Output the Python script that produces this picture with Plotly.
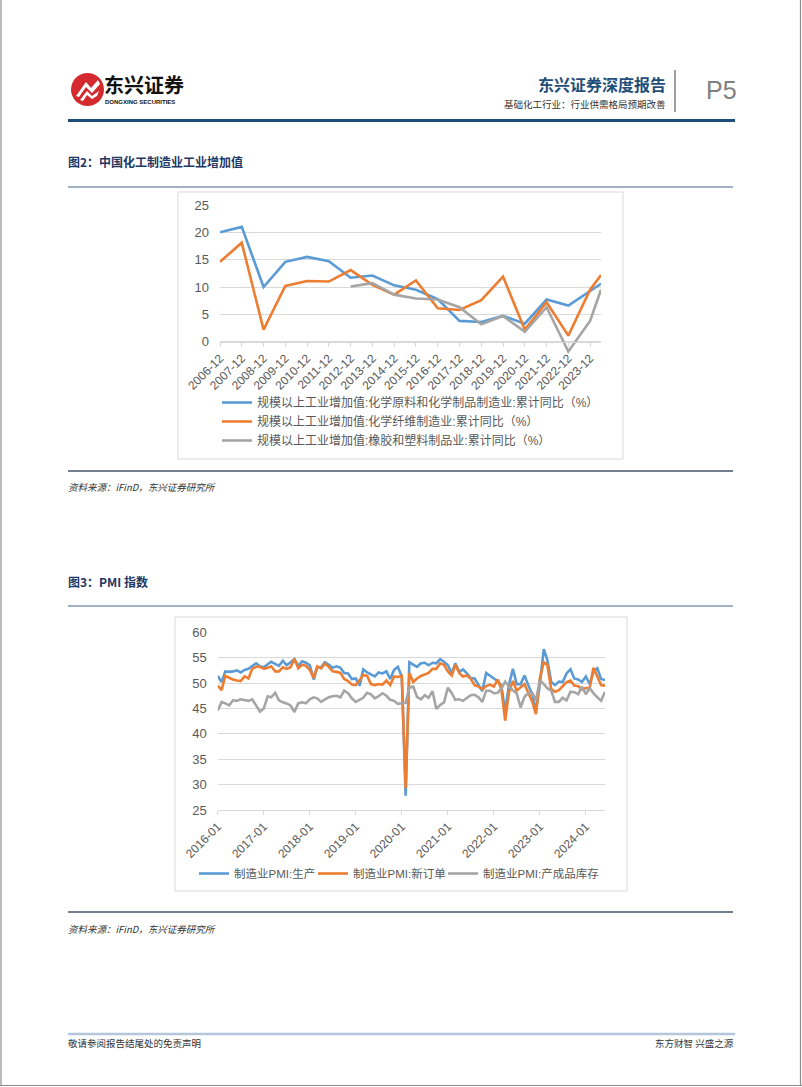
import plotly.graph_objects as go
import pandas as pd

W, H = 802, 1087
def X(px): return px / W
def Y(py): return 1 - py / H

# ---------------- Chart 1 data ----------------
c1_dates = ["2006-12", "2007-12", "2008-12", "2009-12", "2010-12", "2011-12", "2012-12",
            "2013-12", "2014-12", "2015-12", "2016-12", "2017-12", "2018-12", "2019-12",
            "2020-12", "2021-12", "2022-12", "2023-12", "2024-06"]
c1_ticks = ["2006-12", "2007-12", "2008-12", "2009-12", "2010-12", "2011-12", "2012-12",
            "2013-12", "2014-12", "2015-12", "2016-12", "2017-12", "2018-12", "2019-12",
            "2020-12", "2021-12", "2022-12", "2023-12"]
chem_raw = [20.0, 21.0, 10.0, 14.6, 15.5, 14.7, 11.7, 12.1, 10.3, 9.5, 7.8, 3.8, 3.6, 4.7, 3.3, 7.7, 6.6, 9.3, 10.6]
chem_fiber = [14.6, 18.1, 2.2, 10.2, 11.1, 11.0, 13.1, 10.4, 8.6, 11.2, 6.1, 5.8, 7.6, 11.9, 2.2, 7.2, 1.1, 9.5, 12.2]
rubber = [None, None, None, None, None, None, 10.1, 10.7, 8.6, 7.9, 7.7, 6.3, 3.2, 4.7, 1.8, 6.3, -1.8, 3.8, 9.5]
c1_names = ["规模以上工业增加值:化学原料和化学制品制造业:累计同比（%）",
            "规模以上工业增加值:化学纤维制造业:累计同比（%）",
            "规模以上工业增加值:橡胶和塑料制品业:累计同比（%）"]

# ---------------- Chart 2 data ----------------
c2_months = pd.date_range("2016-01-01", "2024-06-01", freq="MS")
c2_tick_labels = ["2016-01", "2017-01", "2018-01", "2019-01", "2020-01", "2021-01", "2022-01", "2023-01", "2024-01"]
pmi_production = [
    51.4, 50.2, 52.3, 52.2, 52.3, 52.5, 52.1, 52.6, 52.8, 53.3, 53.9, 53.3,
    53.1, 53.7, 54.2, 53.8, 53.4, 54.4, 53.5, 54.1, 54.7, 53.4, 54.3, 54.0,
    53.5, 50.7, 53.1, 53.1, 54.1, 53.6, 53.0, 53.3, 53.0, 52.0, 51.9, 50.8,
    50.9, 49.5, 52.7, 52.1, 51.7, 51.3, 52.1, 51.9, 52.3, 50.8, 52.6, 53.2,
    51.3, 27.8, 54.1, 53.7, 53.2, 53.9, 54.0, 53.5, 54.0, 53.9, 54.7, 54.2,
    53.5, 51.9, 53.9, 52.2, 52.7, 51.9, 51.0, 50.9, 49.5, 48.4, 52.0, 51.4,
    50.9, 50.4, 49.5, 44.4, 49.7, 52.8, 49.8, 49.8, 51.5, 49.6, 47.8, 44.6,
    49.8, 56.7, 54.6, 50.2, 49.6, 50.3, 50.2, 51.9, 52.7, 50.9, 50.7, 50.2,
    51.3, 49.8, 52.2, 52.9, 50.8, 50.6]
pmi_new_orders = [
    49.5, 48.6, 51.4, 51.0, 50.7, 50.5, 50.4, 51.3, 50.9, 52.8, 53.2, 53.2,
    52.8, 53.0, 53.3, 52.3, 52.3, 53.1, 52.8, 53.1, 54.8, 52.9, 53.6, 53.4,
    52.6, 51.0, 53.3, 52.9, 53.8, 53.2, 52.3, 52.2, 52.0, 50.8, 50.4, 49.7,
    49.6, 50.6, 51.6, 51.4, 49.8, 49.6, 49.8, 49.7, 50.5, 49.6, 51.3, 51.2,
    51.4, 29.3, 52.0, 50.2, 50.9, 51.4, 51.7, 52.0, 52.8, 52.8, 53.9, 53.6,
    52.3, 51.5, 53.6, 52.0, 51.3, 51.5, 50.9, 49.6, 49.3, 48.8, 49.4, 49.7,
    49.3, 50.7, 48.8, 42.6, 48.2, 50.4, 48.5, 49.2, 49.8, 48.1, 46.4, 43.9,
    50.9, 54.1, 53.6, 48.8, 48.3, 48.6, 49.5, 50.2, 50.5, 49.5, 49.4, 48.7,
    49.0, 49.0, 53.0, 51.1, 49.6, 49.5]
pmi_inventory = [
    44.6, 46.3, 46.0, 45.6, 46.6, 46.5, 46.8, 46.6, 46.5, 46.8, 45.5, 44.4,
    45.0, 47.4, 47.2, 48.1, 46.6, 46.2, 46.0, 45.6, 44.3, 46.0, 46.2, 46.0,
    46.8, 47.2, 47.0, 46.3, 46.8, 47.2, 47.4, 47.5, 47.2, 48.5, 48.0, 47.0,
    46.3, 46.8, 47.1, 48.1, 47.8, 47.0, 47.4, 48.0, 47.5, 46.7, 46.5, 45.9,
    46.0, 46.1, 49.1, 49.3, 47.3, 46.8, 47.6, 47.1, 48.4, 44.9, 45.7, 46.2,
    49.1, 48.0, 46.7, 46.8, 46.5, 47.1, 47.6, 47.7, 47.2, 46.3, 48.5, 48.5,
    48.0, 48.1, 48.9, 50.3, 49.3, 48.6, 48.0, 45.2, 47.3, 48.0, 48.1, 46.6,
    50.6, 49.8, 49.0, 48.5, 46.3, 46.3, 47.1, 46.6, 48.3, 48.2, 47.8, 49.3,
    47.8, 49.0, 48.0, 47.2, 46.5, 48.3]
c2_names = ["制造业PMI:生产", "制造业PMI:新订单", "制造业PMI:产成品库存"]
c2_legend_widths = [74, 85, 120]

colors = ["#5B9BD5", "#ED7D31", "#A5A5A5"]
LBL = "#595959"
GRID = "#D9D9D9"
FONT = "Liberation Sans, Noto Sans CJK SC, sans-serif"
CJK = "Noto Sans CJK SC, sans-serif"

fig = go.Figure()

for vals, name, col in zip([chem_raw, chem_fiber, rubber], c1_names, colors):
    fig.add_trace(go.Scatter(x=c1_dates, y=vals, name=name, mode="lines",
                             line=dict(color=col, width=2.6), xaxis="x", yaxis="y",
                             legend="legend", connectgaps=False))

for vals, name, col, lw in zip([pmi_production, pmi_new_orders, pmi_inventory], c2_names, colors, c2_legend_widths):
    fig.add_trace(go.Scatter(x=c2_months, y=vals, name=name, mode="lines",
                             line=dict(color=col, width=2.6), xaxis="x2", yaxis="y2",
                             legend="legend2", legendwidth=lw))

shapes = []
def hline(y, x0, x1, color, width):
    shapes.append(dict(type="line", xref="paper", yref="paper", x0=X(x0), x1=X(x1),
                       y0=Y(y), y1=Y(y), line=dict(color=color, width=width)))
def vline(x, y0, y1, color, width):
    shapes.append(dict(type="line", xref="paper", yref="paper", x0=X(x), x1=X(x),
                       y0=Y(y0), y1=Y(y1), line=dict(color=color, width=width)))

# page borders
vline(1, 0, 1086, "#8C8C8C", 1.2)
vline(800.5, 0, 1086, "#8C8C8C", 1.2)
hline(1085.5, 0, 802, "#8C8C8C", 1.2)
# header
hline(120.5, 68, 735, "#1F4E79", 3)
vline(675, 70, 112, "#7F7F7F", 1.5)
# figure frame lines
hline(187, 68, 733, "#8497B0", 1.3)
hline(471, 68, 733, "#44546A", 1.5)
hline(606, 68, 733, "#8497B0", 1.3)
hline(912, 68, 733, "#44546A", 1.5)
hline(1034, 68, 735, "#B4C6DB", 2.5)
# chart frames
shapes.append(dict(type="rect", xref="paper", yref="paper", x0=X(178), x1=X(623), y0=Y(459), y1=Y(192),
                   line=dict(color=GRID, width=1), layer="below"))
shapes.append(dict(type="rect", xref="paper", yref="paper", x0=X(175), x1=X(627), y0=Y(891), y1=Y(617),
                   line=dict(color=GRID, width=1), layer="below"))
# logo
shapes.append(dict(type="circle", xref="paper", yref="paper", x0=X(71), x1=X(104), y0=Y(106), y1=Y(73),
                   fillcolor="#D42A2F", line=dict(width=0)))
shapes.append(dict(type="path", xref="paper", yref="paper",
                   path=f"M {X(76)},{Y(96)} L {X(86)},{Y(82)} L {X(91)},{Y(88)} L {X(98)},{Y(80)} L {X(100)},{Y(84)} L {X(92)},{Y(93)} L {X(86)},{Y(87)} L {X(79)},{Y(97)} Z",
                   fillcolor="white", line=dict(width=0)))
shapes.append(dict(type="path", xref="paper", yref="paper",
                   path=f"M {X(80)},{Y(100)} L {X(87)},{Y(91)} L {X(92)},{Y(96)} L {X(99)},{Y(91)} L {X(97)},{Y(96)} L {X(92)},{Y(99)} L {X(87)},{Y(95)} L {X(83)},{Y(101)} Z",
                   fillcolor="white", line=dict(width=0)))

ann = []
def text(x, y, s, size, color="#000000", family=CJK, xanchor="left", bold=False, italic=False):
    if bold:
        s = f"<b>{s}</b>"
    if italic:
        s = f"<i>{s}</i>"
    ann.append(dict(x=X(x), y=Y(y), xref="paper", yref="paper", text=s, showarrow=False,
                    xanchor=xanchor, yanchor="middle", borderpad=0,
                    font=dict(size=size, color=color, family=family)))

text(103, 85, "东兴证券", 20, "#111111", bold=True)
text(104, 102.5, "DONGXING SECURITIES", 6, "#111111", family="Liberation Sans", bold=True)
text(667, 84, "东兴证券深度报告", 16, "#1F4E79", xanchor="right", bold=True)
text(667, 104, "基础化工行业：行业供需格局预期改善", 9.5, "#333333", xanchor="right")
text(705, 90, "P5", 25, "#808080", family="Liberation Sans Narrow, Liberation Sans")
text(67, 162, "图2：中国化工制造业工业增加值", 12, "#1F3864", bold=True)
text(67, 487, "资料来源：iFinD，东兴证券研究所", 9.5, "#333333", italic=True)
text(67, 581, "图3：PMI 指数", 12, "#1F3864", bold=True)
text(67, 929, "资料来源：iFinD，东兴证券研究所", 9.5, "#333333", italic=True)
text(67, 1043, "敬请参阅报告结尾处的免责声明", 9.5, "#333333")
text(735, 1043, "东方财智 兴盛之源", 9.5, "#333333", xanchor="right")

y1_ticks = [-5, 0, 5, 10, 15, 20, 25]
y2_ticks = [25, 30, 35, 40, 45, 50, 55, 60]

fig.update_layout(
    width=W, height=H, margin=dict(l=0, r=0, t=0, b=0, pad=0), autosize=False,
    paper_bgcolor="white", plot_bgcolor="rgba(0,0,0,0)",
    showlegend=True,
    shapes=shapes, annotations=ann,
    xaxis=dict(domain=[X(220), X(601)], anchor="free", position=Y(341.7), type="date",
               range=["2006-12-01", "2024-06-01"], automargin=False,
               tickvals=[d + "-01" for d in c1_ticks], ticktext=c1_ticks,
               tickangle=-45, tickfont=dict(size=12, color=LBL, family=FONT),
               showgrid=False, showline=True, linecolor=GRID, linewidth=1,
               ticks="outside", ticklen=4, tickcolor=GRID, zeroline=False, fixedrange=True),
    yaxis=dict(domain=[Y(369), Y(205)], anchor="x", range=[-5, 25], automargin=False,
               tickvals=y1_ticks, ticktext=["" if v < 0 else str(v) for v in y1_ticks],
               tickfont=dict(size=13, color=LBL, family=FONT),
               showgrid=True, gridcolor=GRID, gridwidth=1, zeroline=False,
               showline=False, ticks="", ticklabelstandoff=10),
    xaxis2=dict(domain=[X(217.7), X(605)], anchor="y2", type="date", automargin=False,
                range=["2016-01-01", "2024-06-01"],
                tickvals=[d + "-01" for d in c2_tick_labels], ticktext=c2_tick_labels,
                tickangle=-45, tickfont=dict(size=12, color=LBL, family=FONT),
                showgrid=False, showline=True, linecolor=GRID, linewidth=1,
                ticks="outside", ticklen=4, tickcolor=GRID, zeroline=False),
    yaxis2=dict(domain=[Y(810), Y(632.3)], anchor="x2", range=[25, 60], automargin=False,
                tickvals=y2_ticks, tickfont=dict(size=13, color=LBL, family=FONT),
                showgrid=True, gridcolor=GRID, gridwidth=1, zeroline=False,
                showline=False, ticks="", ticklabelstandoff=10),
    legend=dict(x=X(217), y=Y(388), xanchor="left", yanchor="top", orientation="v",
                font=dict(size=12, color=LBL, family=FONT), bgcolor="rgba(0,0,0,0)",
                itemwidth=30, tracegroupgap=0),
    legend2=dict(x=X(194), y=Y(859), xanchor="left", yanchor="top", orientation="h",
                 font=dict(size=11.5, color=LBL, family=FONT), bgcolor="rgba(0,0,0,0)",
                 itemwidth=30, entrywidthmode="pixels"),
)

fig.write_html("out.html", config={"displayModeBar": False},
               post_script="document.body.style.margin='0px';document.body.style.overflow='hidden';")
